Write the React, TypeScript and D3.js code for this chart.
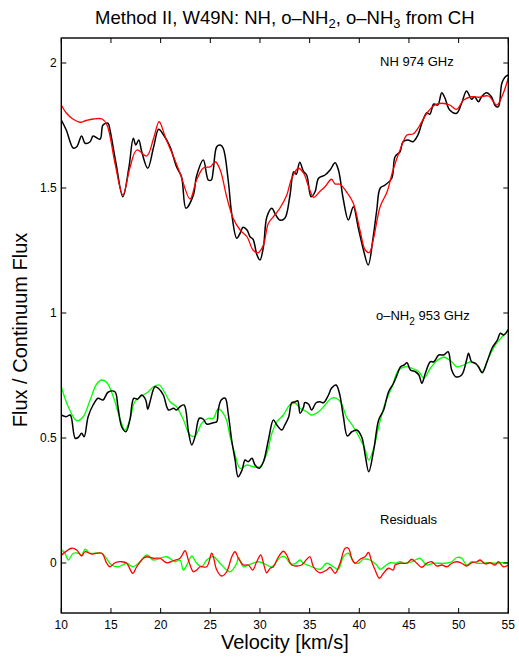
import React from "react";
import * as d3 from "d3";

// Velocity axis (km/s) and normalised flux axis
const xTicks = [10, 15, 20, 25, 30, 35, 40, 45, 50, 55];
const yTicks = [0, 0.5, 1, 1.5, 2];

// NH 974 GHz: observed spectrum [velocity, flux]
const nhObserved: [number, number][] = [
  [10.0, 1.772], [10.5, 1.732], [11.2, 1.66], [11.55, 1.665], [12.05, 1.708], [12.4, 1.679],
  [12.9, 1.685], [13.2, 1.708], [13.9, 1.695], [14.2, 1.752], [14.7, 1.759], [14.9, 1.732],
  [15.5, 1.6], [16.2, 1.465], [16.8, 1.58], [17.25, 1.699], [17.5, 1.672], [17.8, 1.692],
  [18.1, 1.645], [18.7, 1.579], [19.3, 1.665], [19.8, 1.735], [20.3, 1.712], [20.95, 1.665],
  [21.6, 1.585], [22.1, 1.545], [22.55, 1.419], [23.3, 1.472], [23.6, 1.545], [24.3, 1.612],
  [24.8, 1.532], [25.1, 1.532], [25.3, 1.572], [25.65, 1.665], [26.0, 1.672], [26.3, 1.659],
  [26.8, 1.532], [27.15, 1.399], [27.66, 1.299], [28.0, 1.319], [28.3, 1.343], [28.7, 1.332],
  [29.0, 1.305], [29.3, 1.295], [29.7, 1.232], [30.0, 1.212], [30.35, 1.265], [30.7, 1.385],
  [31.2, 1.419], [31.5, 1.399], [32.0, 1.372], [32.5, 1.379], [33.0, 1.465], [33.4, 1.565],
  [33.66, 1.555], [34.0, 1.603], [34.4, 1.565], [34.7, 1.552], [35.15, 1.465], [35.55, 1.485],
  [35.9, 1.539], [36.55, 1.552], [37.06, 1.572], [37.56, 1.601], [37.9, 1.572], [38.4, 1.452],
  [38.9, 1.372], [39.4, 1.425], [39.9, 1.34], [40.4, 1.255], [40.9, 1.192], [41.4, 1.305],
  [41.76, 1.412], [42.1, 1.499], [42.6, 1.512], [43.27, 1.539], [43.6, 1.625], [44.1, 1.645],
  [44.4, 1.685], [44.9, 1.692], [45.4, 1.685], [45.9, 1.712], [46.3, 1.759], [46.8, 1.801],
  [47.1, 1.795], [47.5, 1.836], [47.9, 1.832], [48.3, 1.881], [48.6, 1.862], [49.1, 1.812],
  [49.8, 1.799], [50.3, 1.839], [50.8, 1.888], [51.3, 1.855], [51.6, 1.865], [52.0, 1.845],
  [52.3, 1.865], [52.8, 1.881], [53.3, 1.865], [53.7, 1.828], [54.0, 1.825], [54.35, 1.919],
  [54.7, 1.945], [55.0, 1.952],
];

// NH 974 GHz: model predicted from CH
const nhModel: [number, number][] = [
  [10.0, 1.832], [10.5, 1.8], [11.2, 1.775], [11.9, 1.763], [12.5, 1.77], [13.2, 1.776],
  [14.1, 1.776], [14.6, 1.752], [15.4, 1.6], [16.2, 1.472], [16.9, 1.58], [17.6, 1.652],
  [18.6, 1.628], [19.3, 1.7], [19.85, 1.765], [20.5, 1.7], [21.3, 1.625], [21.95, 1.56],
  [22.96, 1.456], [23.6, 1.53], [24.3, 1.58], [25.0, 1.585], [25.5, 1.605], [26.0, 1.572],
  [26.65, 1.465], [27.3, 1.379], [28.0, 1.332], [28.7, 1.305], [29.3, 1.252], [29.8, 1.241],
  [30.35, 1.272], [30.85, 1.359], [31.5, 1.392], [32.0, 1.419], [32.7, 1.472], [33.2, 1.539],
  [33.86, 1.579], [34.4, 1.559], [34.9, 1.505], [35.4, 1.463], [36.0, 1.485], [36.55, 1.505],
  [37.2, 1.535], [37.56, 1.516], [38.06, 1.515], [38.7, 1.485], [39.4, 1.439], [40.1, 1.325],
  [40.6, 1.252], [41.0, 1.242], [41.4, 1.292], [42.1, 1.425], [42.8, 1.485], [43.4, 1.572],
  [44.1, 1.652], [44.8, 1.712], [45.4, 1.716], [46.0, 1.745], [46.8, 1.799], [47.6, 1.832],
  [48.3, 1.839], [49.1, 1.832], [49.8, 1.815], [50.5, 1.852], [51.3, 1.865], [52.0, 1.863],
  [53.0, 1.868], [53.84, 1.832], [54.35, 1.865], [55.0, 1.939],
];

// o-NH2 953 GHz: observed spectrum
const nh2Observed: [number, number][] = [
  [10.0, 0.592], [10.5, 0.585], [10.9, 0.592], [11.4, 0.499], [11.7, 0.502], [12.05, 0.519],
  [12.3, 0.505], [12.7, 0.585], [13.2, 0.632], [13.7, 0.659], [14.2, 0.652], [14.7, 0.683],
  [15.4, 0.685], [15.7, 0.625], [16.08, 0.545], [16.5, 0.525], [16.9, 0.572], [17.3, 0.659],
  [17.66, 0.655], [18.1, 0.672], [18.5, 0.652], [18.7, 0.615], [18.93, 0.645], [19.43, 0.705],
  [19.77, 0.699], [20.27, 0.672], [20.8, 0.612], [21.3, 0.619], [21.6, 0.612], [21.95, 0.625],
  [22.36, 0.632], [22.8, 0.525], [23.13, 0.472], [23.46, 0.505], [23.9, 0.579], [24.3, 0.575],
  [24.64, 0.556], [25.3, 0.561], [25.65, 0.565], [25.8, 0.612], [26.1, 0.652], [26.5, 0.659],
  [26.8, 0.599], [27.15, 0.492], [27.5, 0.412], [27.8, 0.345], [28.2, 0.372], [28.5, 0.412],
  [28.8, 0.405], [29.2, 0.419], [29.5, 0.392], [29.94, 0.379], [30.35, 0.405], [30.85, 0.492],
  [31.35, 0.572], [31.7, 0.552], [32.2, 0.532], [32.5, 0.552], [32.9, 0.585], [33.2, 0.641],
  [33.56, 0.645], [33.8, 0.649], [34.04, 0.599], [34.4, 0.625], [34.5, 0.641], [34.9, 0.635],
  [35.2, 0.612], [35.65, 0.641], [36.05, 0.645], [36.4, 0.641], [36.9, 0.672], [37.2, 0.699],
  [37.66, 0.712], [38.0, 0.679], [38.4, 0.585], [38.8, 0.508], [39.25, 0.525], [39.75, 0.532],
  [40.25, 0.503], [40.6, 0.43], [40.95, 0.365], [41.45, 0.452], [41.95, 0.572], [42.45, 0.612],
  [42.95, 0.685], [43.45, 0.719], [43.8, 0.752], [44.15, 0.785], [44.5, 0.792], [44.8, 0.801],
  [45.15, 0.772], [45.65, 0.765], [46.0, 0.752], [46.3, 0.719], [46.65, 0.759], [47.15, 0.805],
  [47.5, 0.805], [48.0, 0.832], [48.5, 0.832], [48.94, 0.845], [49.3, 0.772], [49.7, 0.745],
  [50.3, 0.752], [50.8, 0.812], [51.0, 0.839], [51.3, 0.805], [51.7, 0.799], [52.0, 0.785],
  [52.37, 0.761], [52.86, 0.805], [53.36, 0.859], [53.9, 0.892], [54.2, 0.919], [54.55, 0.912],
  [55.0, 0.935],
];

// o-NH2 953 GHz: model predicted from CH
const nh2Model: [number, number][] = [
  [10.0, 0.705], [10.7, 0.625], [11.55, 0.569], [12.2, 0.585], [12.9, 0.652], [13.56, 0.716],
  [14.07, 0.732], [14.6, 0.721], [15.24, 0.665], [15.9, 0.579], [16.4, 0.532], [16.9, 0.572],
  [17.4, 0.645], [18.1, 0.668], [18.76, 0.685], [19.27, 0.705], [19.87, 0.712], [20.45, 0.679],
  [20.95, 0.645], [21.6, 0.625], [22.3, 0.572], [22.96, 0.512], [23.46, 0.508], [24.14, 0.559],
  [24.8, 0.579], [25.3, 0.579], [25.8, 0.616], [26.5, 0.585], [27.0, 0.505], [27.5, 0.432],
  [28.0, 0.379], [28.7, 0.392], [29.3, 0.385], [30.0, 0.385], [30.7, 0.439], [31.2, 0.519],
  [31.7, 0.565], [32.36, 0.592], [33.0, 0.632], [33.56, 0.639], [34.04, 0.619], [34.7, 0.605],
  [35.2, 0.592], [35.9, 0.605], [36.55, 0.632], [37.2, 0.659], [37.7, 0.659], [38.2, 0.639],
  [38.7, 0.585], [39.4, 0.545], [40.1, 0.495], [40.6, 0.452], [40.95, 0.412], [41.45, 0.459],
  [41.95, 0.545], [42.6, 0.639], [43.3, 0.705], [43.95, 0.772], [44.6, 0.785], [45.3, 0.779],
  [46.0, 0.765], [46.5, 0.739], [47.15, 0.779], [47.8, 0.809], [48.5, 0.823], [49.3, 0.805],
  [49.8, 0.785], [50.5, 0.792], [51.2, 0.805], [51.85, 0.792], [52.37, 0.765], [53.0, 0.819],
  [53.7, 0.872], [54.37, 0.905], [55.0, 0.932],
];

// Residuals (observed minus model) for NH
const nhResidual: [number, number][] = [
  [10.04, 0.032], [11.04, 0.059], [11.55, 0.052], [12.05, 0.028], [12.39, 0.045], [13.06, 0.036],
  [14.07, 0.039], [14.57, -0.001], [14.9, -0.015], [15.41, 0.001], [16.08, 0.005], [16.58, -0.001],
  [17.19, -0.041], [17.59, -0.015], [18.26, 0.019], [18.6, 0.025], [19.27, 0.019], [19.94, 0.019],
  [20.61, 0.001], [21.28, 0.009], [21.95, 0.019], [22.46, 0.049], [22.79, 0.012], [23.3, -0.035],
  [23.63, -0.028], [23.97, -0.015], [24.64, -0.015], [25.14, 0.039], [25.31, 0.025], [25.65, -0.028],
  [26.15, -0.052], [26.65, -0.035], [27.16, 0.025], [27.49, 0.045], [27.83, 0.019], [28.33, -0.008],
  [28.83, -0.008], [29.27, -0.028], [29.67, 0.005], [30.08, 0.032], [30.35, -0.001], [30.68, -0.039],
  [31.02, -0.021], [31.35, -0.015], [31.86, 0.025], [32.36, 0.047], [32.69, 0.032], [33.19, -0.008],
  [33.7, -0.012], [34.2, -0.008], [34.71, 0.015], [35.04, 0.025], [35.38, -0.015], [36.05, -0.039],
  [36.72, -0.028], [37.06, -0.017], [37.56, -0.041], [38.06, -0.001], [38.57, 0.059], [38.9, 0.059],
  [39.24, 0.019], [39.57, -0.001], [40.08, 0.015], [40.58, 0.025], [40.92, 0.042], [41.25, 0.005],
  [41.59, -0.028], [42.02, -0.061], [42.43, -0.041], [42.93, -0.021], [43.43, -0.028], [43.6, -0.008],
  [44.1, -0.001], [44.78, -0.001], [45.28, 0.015], [45.78, -0.001], [46.29, -0.017], [46.79, -0.001],
  [47.29, 0.005], [47.8, -0.012], [48.3, -0.008], [48.8, -0.015], [49.31, -0.001], [49.81, 0.005],
  [50.31, -0.001], [50.82, -0.012], [51.32, 0.001], [51.83, 0.005], [52.16, 0.012], [52.66, -0.003],
  [53.17, 0.001], [53.67, -0.008], [54.0, 0.005], [54.51, -0.015], [55.0, -0.008],
];

// Residuals (observed minus model) for o-NH2
const nh2Residual: [number, number][] = [
  [10.04, 0.052], [10.37, 0.039], [10.71, 0.012], [11.21, 0.039], [11.72, 0.039], [12.05, 0.032],
  [12.39, 0.055], [12.89, 0.039], [14.07, 0.039], [15.07, -0.008], [15.74, -0.015], [16.58, -0.001],
  [17.19, -0.015], [17.93, 0.005], [18.6, 0.032], [19.27, 0.012], [20.61, 0.025], [21.45, 0.005],
  [21.95, 0.012], [22.29, -0.028], [22.79, 0.005], [23.13, 0.028], [23.63, -0.001], [24.14, -0.015],
  [24.64, 0.012], [25.31, 0.025], [25.98, -0.001], [26.65, -0.028], [26.99, -0.035], [27.66, -0.001],
  [27.83, 0.022], [28.33, -0.015], [28.83, -0.008], [29.84, 0.005], [30.35, -0.001], [31.19, -0.015],
  [32.02, 0.022], [32.52, 0.025], [33.03, -0.001], [33.53, -0.003], [34.03, 0.012], [34.37, -0.001],
  [35.04, -0.012], [36.05, -0.025], [36.72, -0.001], [37.39, -0.015], [37.89, -0.025], [38.4, 0.025],
  [38.9, 0.039], [39.4, 0.005], [39.91, -0.001], [40.41, 0.015], [41.08, 0.012], [41.75, -0.008],
  [42.09, -0.025], [42.59, -0.012], [43.1, 0.001], [43.6, -0.001], [44.1, 0.005], [44.61, -0.001],
  [45.28, 0.005], [45.78, 0.015], [46.12, 0.019], [46.79, -0.008], [47.46, -0.001], [48.64, -0.001],
  [49.31, 0.005], [49.81, 0.022], [50.31, 0.019], [50.82, -0.008], [51.32, 0.005], [51.83, -0.001],
  [52.5, -0.001], [53.0, 0.001], [53.67, -0.001], [54.17, 0.001], [55.0, 0.001],
];

const W = 519;
const H = 661;
const plot = { left: 61.3, right: 508.3, top: 38, bottom: 613 };
const FONT = "'Liberation Sans', Arial, Helvetica, sans-serif";

export default function App() {
  const x = d3.scaleLinear().domain([10, 55]).range([plot.left, plot.right]);
  const y = d3.scaleLinear().domain([-0.2, 2.1]).range([plot.bottom, plot.top]);

  const line = d3
    .line<[number, number]>()
    .x((d) => x(d[0]))
    .y((d) => y(d[1]))
    .curve(d3.curveCatmullRom.alpha(0.5));

  const tickLen = 5;
  const cx = (plot.left + plot.right) / 2;

  return (
    <svg
      width={W}
      height={H}
      style={{ position: "absolute", left: 0, top: 0, background: "#fff" }}
      fontFamily={FONT}
    >
      <rect x={0} y={0} width={W} height={H} fill="#fff" />
      <defs>
        <clipPath id="plotArea">
          <rect
            x={plot.left}
            y={plot.top}
            width={plot.right - plot.left}
            height={plot.bottom - plot.top}
          />
        </clipPath>
      </defs>

      <g clipPath="url(#plotArea)" fill="none" strokeLinejoin="round">
        <path d={line(nhObserved) ?? ""} stroke="#000" strokeWidth={1.5} />
        <path d={line(nhModel) ?? ""} stroke="#ff0000" strokeWidth={1.3} />
        <path d={line(nh2Model) ?? ""} stroke="#00ff00" strokeWidth={1.3} />
        <path d={line(nh2Observed) ?? ""} stroke="#000" strokeWidth={1.5} />
        <path d={line(nh2Residual) ?? ""} stroke="#00ff00" strokeWidth={1.3} />
        <path d={line(nhResidual) ?? ""} stroke="#ff0000" strokeWidth={1.3} />
      </g>

      {/* ticks on all four sides, pointing inward */}
      <g stroke="#000" strokeWidth={1}>
        {xTicks.map((t) => (
          <g key={`xt${t}`}>
            <line x1={x(t)} x2={x(t)} y1={plot.bottom} y2={plot.bottom - tickLen} />
            <line x1={x(t)} x2={x(t)} y1={plot.top} y2={plot.top + tickLen} />
          </g>
        ))}
        {yTicks.map((t) => (
          <g key={`yt${t}`}>
            <line x1={plot.left} x2={plot.left + tickLen} y1={y(t)} y2={y(t)} />
            <line x1={plot.right} x2={plot.right - tickLen} y1={y(t)} y2={y(t)} />
          </g>
        ))}
      </g>

      <rect
        x={plot.left}
        y={plot.top}
        width={plot.right - plot.left}
        height={plot.bottom - plot.top}
        fill="none"
        stroke="#000"
        strokeWidth={1.4}
      />

      <g fontSize={12} fill="#000">
        {xTicks.map((t) => (
          <text key={`xl${t}`} x={x(t)} y={plot.bottom + 15.5} textAnchor="middle">
            {t}
          </text>
        ))}
        {yTicks.map((t) => (
          <text key={`yl${t}`} x={plot.left - 4.5} y={y(t) + 4.3} textAnchor="end">
            {t}
          </text>
        ))}
      </g>

      <text x={cx} y={23.5} textAnchor="middle" fontSize={18.5} fill="#000">
        Method II, W49N: NH, o–NH
        <tspan fontSize={13} dy={4}>2</tspan>
        <tspan dy={-4}>, o–NH</tspan>
        <tspan fontSize={13} dy={4}>3</tspan>
        <tspan dy={-4}> from CH</tspan>
      </text>

      <text x={cx} y={649} textAnchor="middle" fontSize={20} fill="#000">
        Velocity [km/s]
      </text>

      <text
        transform={`translate(27,${330}) rotate(-90)`}
        textAnchor="middle"
        fontSize={20}
        fill="#000"
      >
        Flux / Continuum Flux
      </text>

      <g fontSize={13} fill="#000">
        <text x={380} y={66}>NH 974 GHz</text>
        <text x={376} y={320}>
          o–NH
          <tspan fontSize={10} dy={5}>2</tspan>
          <tspan dy={-5}> 953 GHz</tspan>
        </text>
        <text x={380} y={524}>Residuals</text>
      </g>
    </svg>
  );
}
